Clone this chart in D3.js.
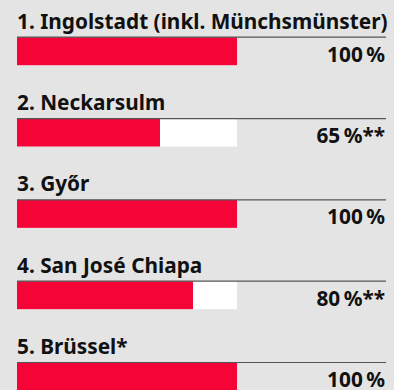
<!DOCTYPE html>
<html>
<head>
<meta charset="utf-8">
<script src="https://cdn.jsdelivr.net/npm/d3@7"></script>
<style>
  html, body { margin: 0; padding: 0; background: #e4e4e4; }
  svg { display: block; }
  text { font-family: "Noto Sans", sans-serif; font-weight: 700; fill: #111; }
</style>
</head>
<body>
<svg id="chart" width="394" height="390"></svg>
<script>
// Plant utilisation per site
const plants = [
  "1. Ingolstadt (inkl. Münchsmünster)",
  "2. Neckarsulm",
  "3. Győr",
  "4. San José Chiapa",
  "5. Brüssel*"
];
const utilisation = [100, 65, 100, 80, 100];
const notes = ["", "**", "", "**", ""];

const width = 394, height = 390;
const left = 17, right = 386;
const barWidth = 220, barHeight = 28;

const svg = d3.select("#chart");

// vertical position of each row's rule line
const y = d3.scalePoint()
  .domain(plants)
  .range([36.7, 362]);

// bar length scale
const x = d3.scaleLinear()
  .domain([0, 100])
  .range([left, left + barWidth]);

const rows = svg.selectAll("g.row")
  .data(plants.map((p, i) => ({ name: p, value: utilisation[i], note: notes[i] })))
  .join("g")
  .attr("class", "row")
  .attr("transform", d => `translate(0,${y(d.name)})`);

rows.append("text")
  .attr("x", left)
  .attr("y", -8)
  .attr("font-size", 20.8)
  .text(d => d.name);

rows.append("rect")
  .attr("x", x(0))
  .attr("y", 0.5)
  .attr("width", x(100) - x(0))
  .attr("height", barHeight)
  .attr("fill", "#ffffff");

rows.append("rect")
  .attr("x", x(0))
  .attr("y", 0.5)
  .attr("width", d => x(d.value) - x(0))
  .attr("height", barHeight)
  .attr("fill", "#f50537");

rows.append("line")
  .attr("x1", left)
  .attr("x2", right)
  .attr("y1", 0.5)
  .attr("y2", 0.5)
  .attr("stroke", "#555")
  .attr("stroke-width", 1.2);

rows.append("text")
  .attr("x", right - 1)
  .attr("y", 25)
  .attr("text-anchor", "end")
  .attr("font-size", 20.8)
  .text(d => `${d.value}\u202F%${d.note}`);
</script>
</body>
</html>
